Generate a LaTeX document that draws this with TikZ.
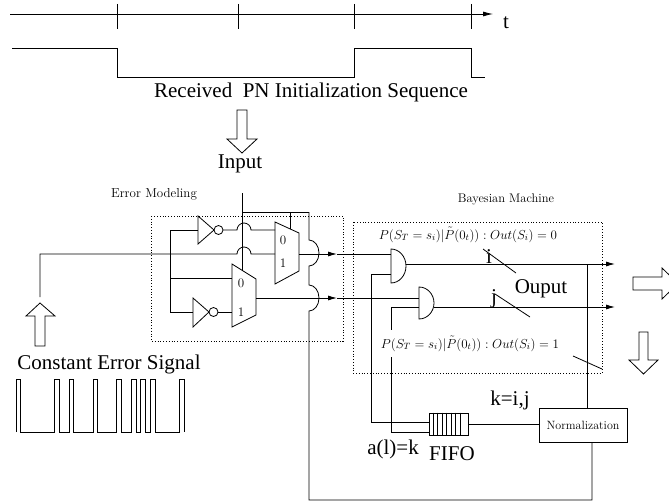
\RequirePackage{fix-cm}
\documentclass[tikz,border=0pt]{standalone}
\usepackage{fontspec}
\newfontfamily\timesfont{Liberation Serif}
\usetikzlibrary{arrows.meta,positioning}

\tikzset{
  wire/.style={line width=0.8pt},
  sigarrow/.style={wire,-{Latex[length=9pt,width=5pt]}},
  dotbox/.style={dotted,line width=0.8pt},
  hollow/.style={draw,line width=0.8pt,fill=white},
  bigtxt/.style={font=\timesfont\fontsize{21}{25}\selectfont,inner sep=0pt,anchor=base},
  cmtxt/.style={font=\fontsize{13}{15}\selectfont,inner sep=0pt,anchor=base},
  cmdigit/.style={font=\fontsize{13}{15}\selectfont,inner sep=0pt},
  mathtxt/.style={font=\fontsize{13}{15}\selectfont,inner xsep=1pt,anchor=base},
}

\begin{document}
\begin{tikzpicture}[x=1pt,y=-1pt]
  \useasboundingbox (0,0) rectangle (669,503);

  % time axis and received sequence
  \coordinate (tstart) at (10,14);
  \coordinate (tstop) at (493,14);
  \draw[wire,-{Latex[length=10pt,width=5pt]}] (tstart) -- (tstop);
  \foreach \tx in {117,238,354,471}
    \draw[wire] (\tx,4) -- (\tx,29);
  \node[bigtxt] (tlabel) at (506,29) {t};
  \draw[wire] (12,48) -- (117,48) -- (117,77) -- (354,77) -- (354,48) -- (471,48) -- (471,77) -- (485,77);
  \node[bigtxt] (pnlabel) at (311,97) {Received\ \ PN Initialization Sequence};

  % input arrow
  \draw[hollow] (237,110) -- (247,110) -- (247,139) -- (257,139) -- (242,153) -- (227,139) -- (237,139) -- cycle;
  \node[bigtxt] (inlabel) at (240,168) {Input};

  % dotted blocks
  \draw[dotbox] (151,216) rectangle (343,341);
  \node[cmtxt] (errlabel) at (154,197) {Error Modeling};
  \draw[dotbox] (353,222) rectangle (602,373);
  \node[cmtxt,font=\fontsize{12.5}{15}\selectfont] (bayeslabel) at (506,202) {Bayesian Machine};

  % gate pins
  \coordinate (notAin) at (198,230);  \coordinate (notAout) at (223,230);
  \coordinate (notBin) at (193,312);  \coordinate (notBout) at (218,312);
  \coordinate (muxAin0) at (275,230); \coordinate (muxAin1) at (275,254);
  \coordinate (muxAout) at (299,254); \coordinate (muxAsel) at (290,229);
  \coordinate (muxBin0) at (232,278); \coordinate (muxBin1) at (232,312);
  \coordinate (muxBout) at (256,298); \coordinate (muxBsel) at (242,270);
  \coordinate (andAin1) at (391,254); \coordinate (andAin2) at (391,274);
  \coordinate (andAout) at (406,264);
  \coordinate (andBin1) at (419,298); \coordinate (andBin2) at (419,307);
  \coordinate (andBout) at (434,307);

  % not gates
  \draw[wire] (198,216) -- (214,230) -- (198,244) -- cycle;
  \draw[wire] (218.5,230) circle[radius=4.5];
  \draw[wire] (193,298) -- (209,312) -- (193,327) -- cycle;
  \draw[wire] (213.5,312) circle[radius=4.5];

  % multiplexers
  \draw[wire] (275,222) -- (299,233) -- (299,271) -- (275,284) -- cycle;
  \draw[wire] (232,264) -- (256,279) -- (256,315) -- (232,327) -- cycle;
  \node[cmdigit] (muxA0) at (283,240) {0};
  \node[cmdigit] (muxA1) at (283,263) {1};
  \node[cmdigit] (muxB0) at (241,283) {0};
  \node[cmdigit] (muxB1) at (241,312) {1};

  % and gates
  \draw[wire] (391,249) -- (391,283) arc[start angle=90,end angle=-90,x radius=15,y radius=17] -- cycle;
  \draw[wire] (419,287) -- (419,319) arc[start angle=90,end angle=-90,x radius=15,y radius=16] -- cycle;

  % fifo and normalization
  \node[draw,wire,minimum width=39,minimum height=22,inner sep=0pt] (fifo) at (448.5,424) {};
  \foreach \k in {1,...,7}
    \draw[line width=0.6pt] ([xshift=\k*4.5pt]fifo.north west) -- ([xshift=\k*4.5pt]fifo.south west);
  \node[draw,wire,minimum width=88,minimum height=34,inner sep=0pt,font=\fontsize{12}{14}\selectfont] (norm) at (583,425) {Normalization};

  % wiring of the error model
  \draw[wire] (242,193) -- (muxBsel);
  \draw[wire] (242,212) -- (309,212);
  \draw[wire] (290,212) -- (muxAsel);
  \draw[wire] (notAin) -- (170,230) -- (170,312) -- (notBin);
  \draw[wire] (170,278) -- (muxBin0);
  \draw[wire] (notAout) -- (237,230) arc[start angle=180,end angle=360,radius=7] -- (muxAin0);
  \draw[wire] (notBout) -- (muxBin1);
  \draw[wire] (40,297) -- (40,254) -- (237,254) arc[start angle=180,end angle=360,radius=7] -- (muxAin1);
  \draw[sigarrow] (muxAout) -- (337,254);
  \draw[wire] (337,254) -- (andAin1);
  \draw[sigarrow] (muxBout) -- (337,298);
  \draw[wire] (337,298) -- (andBin1);

  % feedback from normalization
  \draw[wire] (309,212) -- (309,240) arc[start angle=-90,end angle=90,x radius=10,y radius=13]
    -- (309,285) arc[start angle=-90,end angle=90,x radius=10,y radius=13]
    -- (309,500) -| ([xshift=9pt]norm.south);

  % bayesian machine
  \draw[wire] (andAin2) -| (371,422) -- ([yshift=2pt]fifo.west);
  \draw[wire] (andBin2) -| (391,432) -- ([yshift=-8pt]fifo.west);
  \draw[sigarrow] (andAout) -- (615,264);
  \draw[sigarrow] (andBout) -- (615,307);
  \draw[wire] (587,264) -- ([xshift=4pt]norm.north);
  \draw[wire] (fifo.east) -- (fifo.east -| norm.west);
  \draw[wire] (483,249) -- (516,273);
  \draw[wire] (495,294) -- (530,317);
  \draw[wire] (573,356) -- (602,369);

  \node[mathtxt] (probzero) at (468,239) {$P(S_T=s_i)|\tilde{P}(0_t)):Out(S_i)=0$};
  \node[mathtxt,fill=white,inner ysep=6pt] (probone) at (470,348) {$P(S_T=s_i)|\tilde{P}(0_t)):Out(S_i)=1$};

  \node[bigtxt] (ilabel) at (489,263) {i};
  \node[bigtxt] (jlabel) at (494,303) {j};
  \node[bigtxt] (outlabel) at (541,293) {Ouput};
  \node[bigtxt] (klabel) at (510,405) {k=i,j};
  \node[bigtxt] (alabel) at (393,454) {a(l)=k};
  \node[bigtxt] (fifolabel) at (452,460) {FIFO};

  % output arrows
  \draw[hollow] (633,277) -- (662,277) -- (662,268) -- (678,283.5) -- (662,299) -- (662,290) -- (633,290) -- cycle;
  \draw[hollow] (639,332) -- (648,332) -- (648,360) -- (658,360) -- (643.5,374) -- (629,360) -- (639,360) -- cycle;

  % constant error signal
  \draw[hollow] (35,346) -- (45,346) -- (45,316) -- (55,316) -- (40,303) -- (26,316) -- (35,316) -- cycle;
  \node[bigtxt] (cesignal) at (109,369) {Constant Error Signal};
  \draw[wire] (16,432) \foreach \a/\b in {16/20.7,54.3/59.3,69.3/73.3,93.3/97.7,116.7/121.7,131.7/136,140.7/145.7,150.7/155,179.3/184}
    { -- (\a,432) -- (\a,379) -- (\b,379) -- (\b,432) };
\end{tikzpicture}
\end{document}
